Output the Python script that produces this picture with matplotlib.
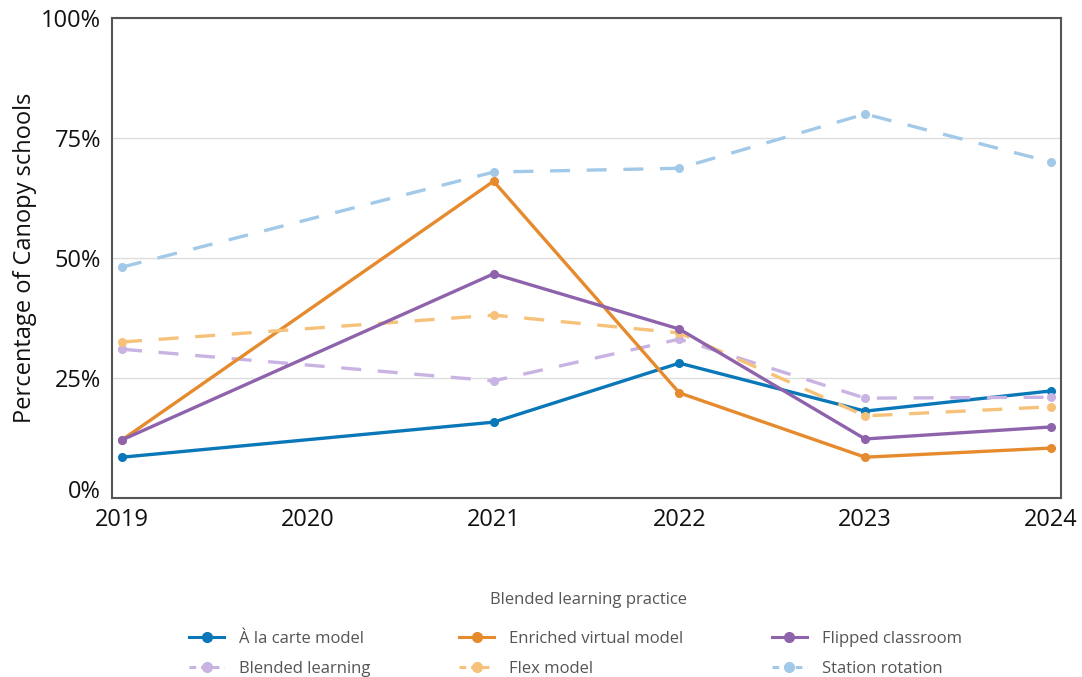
import matplotlib
matplotlib.use("Agg")
import matplotlib.pyplot as plt
from matplotlib.lines import Line2D
from matplotlib.ticker import FuncFormatter

plt.rcParams['font.family'] = ['Open Sans', 'DejaVu Sans']

years = [2019, 2021, 2022, 2023, 2024]
a_la_carte = [8.5, 15.8, 28.1, 18.1, 22.3]
enriched_virtual = [12.1, 66.0, 21.9, 8.5, 10.4]
flipped_classroom = [12.1, 46.7, 35.2, 12.3, 14.8]
blended_learning = [31.0, 24.4, 33.1, 20.8, 21.0]
flex_model = [32.5, 38.1, 34.4, 17.1, 19.0]
station_rotation = [48.1, 67.9, 68.7, 80.0, 70.0]

x_ticks = [2019, 2020, 2021, 2022, 2023, 2024]
y_ticks = [0, 25, 50, 75, 100]

series = [
    ("À la carte model", a_la_carte, "#0a77b8", "-"),
    ("Blended learning", blended_learning, "#c9b3e2", "--"),
    ("Enriched virtual model", enriched_virtual, "#e68a2e", "-"),
    ("Flex model", flex_model, "#f6c27a", "--"),
    ("Flipped classroom", flipped_classroom, "#8f63ab", "-"),
    ("Station rotation", station_rotation, "#a2c9e8", "--"),
]

fig = plt.figure(figsize=(10.82, 6.77), dpi=100)
ax = fig.add_axes([0.1035, 0.2644, 0.877, 0.709])

handles = []
for name, vals, color, ls in series:
    style = (0, (6, 5)) if ls == "--" else "-"
    ax.plot(years, vals, color=color, lw=2.4, linestyle=style,
            marker="o", markersize=5.5)
    # legend key with a shorter dash so the pattern reads at small size
    key_style = (0, (2.2, 1.6)) if ls == "--" else "-"
    handles.append(Line2D([], [], color=color, lw=2.2, linestyle=key_style,
                          marker="o", markersize=7, label=name))

ax.set_xlim(2018.946, 2024.054)
ax.set_ylim(0, 100)
ax.set_xticks(x_ticks)
ax.set_yticks(y_ticks)
ax.yaxis.set_major_formatter(FuncFormatter(lambda v, p: f"{int(v)}%"))
ax.tick_params(axis="both", length=0, labelsize=17, colors="#111111")
ax.tick_params(axis="x", pad=7)
ax.tick_params(axis="y", pad=8)
for lab in ax.get_yticklabels():
    if lab.get_text() == "0%":
        lab.set_verticalalignment("baseline")
ax.grid(axis="y", color="#dddddd", lw=1)
ax.set_axisbelow(True)
for s in ax.spines.values():
    s.set_color("#555555")
    s.set_linewidth(1.5)

ax.set_ylabel("Percentage of Canopy schools", fontsize=17, color="#111111", labelpad=3)

fig.text(0.5435, 0.113, "Blended learning practice", ha="center", va="center",
         fontsize=12, color="#555555")
leg = fig.legend(handles=handles, loc="upper center", bbox_to_anchor=(0.532, 0.080),
                 ncol=3, frameon=False, fontsize=12, handlelength=2.1,
                 columnspacing=5.3, handletextpad=0.9, labelspacing=0.8,
                 borderpad=0)
for t in leg.get_texts():
    t.set_color("#555555")

fig.savefig("out.png", dpi=100)
